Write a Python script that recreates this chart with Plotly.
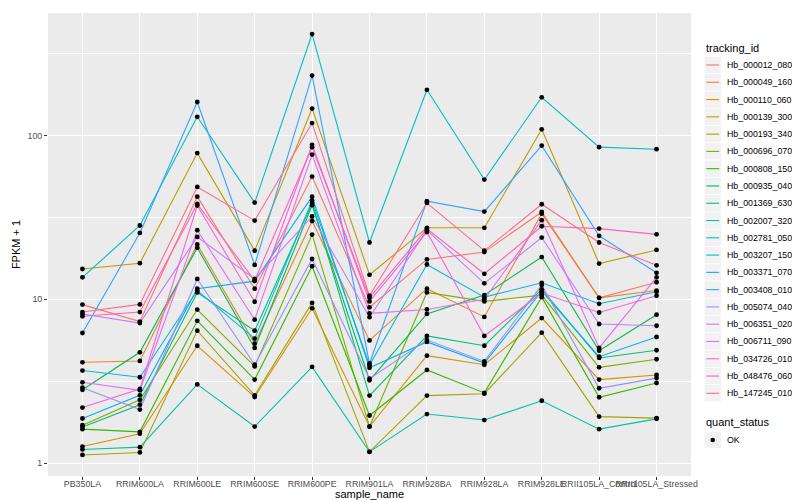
import math
import plotly.graph_objects as go

# ---------------- data ----------------
samples = ["PB350LA", "RRIM600LA", "RRIM600LE", "RRIM600SE", "RRIM600PE",
           "RRIM901LA", "RRIM928BA", "RRIM928LA", "RRIM928LE",
           "RRII105LA_Control", "RRII105LA_Stressed"]

tracking_ids = ["Hb_000012_080", "Hb_000049_160", "Hb_000110_060", "Hb_000139_300",
                "Hb_000193_340", "Hb_000696_070", "Hb_000808_150", "Hb_000935_040",
                "Hb_001369_630", "Hb_002007_320", "Hb_002781_050", "Hb_003207_150",
                "Hb_003371_070", "Hb_003408_010", "Hb_005074_040", "Hb_006351_020",
                "Hb_006711_090", "Hb_034726_010", "Hb_048476_060", "Hb_147245_010"]

hb_000012_080 = [9.27, 7.3, 42.3, 11.6, 56.1, 8.93, 17.5, 19.4, 34.1, 10.2, 12.7]
hb_000049_160 = [4.12, 4.2, 21.6, 5.36, 30.0, 5.6, 11.6, 7.8, 33.3, 10.2, 11.3]
hb_000110_060 = [1.26, 1.51, 5.2, 2.53, 8.8, 1.67, 4.52, 3.98, 7.67, 3.23, 3.45]
hb_000139_300 = [15.3, 16.6, 78.0, 19.8, 146.0, 14.1, 27.3, 27.3, 109.0, 16.5, 20.0]
hb_000193_340 = [1.12, 1.16, 6.43, 2.59, 9.5, 1.17, 2.58, 2.65, 6.25, 1.92, 1.88]
hb_000696_070 = [1.70, 2.43, 8.65, 3.89, 24.8, 1.67, 11.0, 9.7, 10.6, 3.84, 4.30]
hb_000808_150 = [1.61, 1.55, 7.38, 3.23, 15.9, 1.95, 3.70, 2.68, 10.3, 2.52, 3.08]
hb_000935_040 = [2.80, 4.74, 20.6, 5.04, 37.5, 3.2, 8.13, 10.6, 18.1, 4.85, 8.05]
hb_001369_630 = [1.66, 2.27, 11.0, 6.43, 38.7, 2.58, 5.97, 5.2, 11.5, 4.38, 4.88]
hb_002007_320 = [1.21, 1.25, 3.02, 1.67, 3.86, 1.17, 1.99, 1.83, 2.4, 1.61, 1.86]
hb_002781_050 = [13.6, 28.2, 130.0, 38.9, 416.0, 22.2, 190.0, 53.8, 171.0, 84.8, 82.4]
hb_003207_150 = [3.67, 3.34, 11.3, 5.75, 40.0, 3.95, 16.3, 10.3, 12.6, 9.38, 11.1]
hb_003371_070 = [1.87, 2.59, 11.6, 12.9, 42.3, 3.81, 5.49, 4.08, 11.2, 4.46, 5.88]
hb_003408_010 = [6.22, 25.4, 160.0, 16.2, 232.0, 4.05, 39.7, 34.3, 86.7, 24.4, 14.5]
hb_005074_040 = [2.88, 2.12, 13.3, 3.98, 17.6, 3.27, 5.63, 4.17, 12.2, 2.86, 3.3]
hb_006351_020 = [8.13, 7.15, 24.0, 13.3, 32.0, 7.77, 26.4, 12.5, 23.8, 7.06, 6.89]
hb_006711_090 = [3.11, 2.78, 26.4, 7.5, 76.4, 8.2, 8.66, 10.0, 30.4, 5.04, 13.6]
hb_034726_010 = [2.18, 2.83, 37.3, 9.65, 87.7, 9.7, 25.7, 5.97, 10.9, 8.3, 10.5]
hb_048476_060 = [7.87, 8.35, 38.2, 13.0, 84.8, 10.2, 26.9, 14.3, 27.9, 27.0, 24.9]
hb_147245_010 = [8.35, 9.3, 48.5, 30.2, 119.0, 10.5, 38.7, 19.8, 38.0, 22.2, 16.1]

series_values = [hb_000012_080, hb_000049_160, hb_000110_060, hb_000139_300,
                 hb_000193_340, hb_000696_070, hb_000808_150, hb_000935_040,
                 hb_001369_630, hb_002007_320, hb_002781_050, hb_003207_150,
                 hb_003371_070, hb_003408_010, hb_005074_040, hb_006351_020,
                 hb_006711_090, hb_034726_010, hb_048476_060, hb_147245_010]

quant_status = ["OK"]
y_ticks = [1, 10, 100]
y_minor = [10 ** 0.5, 10 ** 1.5, 10 ** 2.5]

# ---------------- styles ----------------
colors = ["#F8766D", "#EA8331", "#D89000", "#C09B00", "#A3A500", "#7CAE00",
          "#39B600", "#00BB4E", "#00BF7D", "#00C1A3", "#00BFC4", "#00BAE0",
          "#00B0F6", "#35A2FF", "#9590FF", "#C77CFF", "#E76BF3", "#FA62DB",
          "#FF62BC", "#FF6C91"]
FONT = "Liberation Sans, Arial, Helvetica, sans-serif"
W, H = 800, 500
L, R, T, B = 40, 683, 5, 468  # panel in pixels

fig = go.Figure()
for name, vals, col in zip(tracking_ids, series_values, colors):
    fig.add_trace(go.Scatter(x=samples, y=vals, mode="lines", name=name,
                             line=dict(color=col, width=1.1), showlegend=False,
                             hoverinfo="skip"))

px_all, py_all = [], []
for vals in series_values:
    px_all += samples
    py_all += vals
fig.add_trace(go.Scatter(x=px_all, y=py_all, mode="markers", name=quant_status[0],
                         marker=dict(color="black", size=4.8, symbol="circle"),
                         showlegend=False))

# y range with ggplot-like 5% expansion in log space
lo = math.log10(min(py_all))
hi = math.log10(max(py_all))
pad = 0.05 * (hi - lo)

fig.update_layout(
    width=W, height=H,
    margin=dict(l=L, r=W - R, t=T, b=H - B),
    paper_bgcolor="white", plot_bgcolor="#EBEBEB",
    font=dict(family=FONT, color="black"),
    showlegend=False,
)
fig.update_xaxes(
    type="category", categoryorder="array", categoryarray=samples,
    range=[-0.6, len(samples) - 0.4],
    showgrid=True, gridcolor="white", gridwidth=1.1, zeroline=False, showline=False,
    ticks="outside", ticklen=3, tickwidth=1, tickcolor="#333333",
    tickfont=dict(size=8.8, color="#4D4D4D", family=FONT), tickangle=0,
    ticklabelstandoff=-4,
    automargin=False,
)
fig.update_yaxes(
    type="log", range=[lo - pad, hi + pad],
    tickvals=y_ticks, ticktext=[str(v) for v in y_ticks],
    showgrid=True, gridcolor="white", gridwidth=1.1, zeroline=False, showline=False,
    ticks="outside", ticklen=3, tickwidth=1, tickcolor="#333333",
    tickfont=dict(size=8.8, color="#4D4D4D", family=FONT),
    minor=dict(tickvals=y_minor, showgrid=True, gridcolor="white", gridwidth=0.55, ticks=""),
    title=dict(text="FPKM + 1", font=dict(size=11, color="black", family=FONT), standoff=4),
    automargin=False,
)

# ---------------- legends (ggplot-style keys) ----------------
def xp(px):
    return (px - L) / (R - L)

def yp(py):
    return (B - py) / (B - T)

shapes, annots = [], []

# x axis title
annots.append(dict(x=0.5, y=yp(485.5), xref="paper", yref="paper", text="sample_name",
                   showarrow=False, xanchor="center", yanchor="middle",
                   font=dict(size=11, color="black", family=FONT)))

key_x0, key_x1 = 696.5, 713.0
text_x = 717.0
step = 17.28
first = 57.0

annots.append(dict(x=xp(696), y=yp(40), xref="paper", yref="paper", text="tracking_id",
                   showarrow=False, xanchor="left", yanchor="middle",
                   font=dict(size=11, color="black", family=FONT)))
for i, (name, col) in enumerate(zip(tracking_ids, colors)):
    yc = first + i * step
    shapes.append(dict(type="rect", xref="paper", yref="paper",
                       x0=xp(key_x0), x1=xp(key_x1), y0=yp(yc - 8.2), y1=yp(yc + 8.2),
                       fillcolor="#F2F2F2", line=dict(width=0), layer="above"))
    shapes.append(dict(type="line", xref="paper", yref="paper",
                       x0=xp(key_x0 + 1.8), x1=xp(key_x1 - 1.8), y0=yp(yc), y1=yp(yc),
                       line=dict(color=col, width=1.1), layer="above"))
    annots.append(dict(x=xp(text_x), y=yp(yc), xref="paper", yref="paper", text=name,
                       showarrow=False, xanchor="left", yanchor="middle",
                       font=dict(size=8.8, color="black", family=FONT)))

q_title_y = 414
q_key_y = 432
annots.append(dict(x=xp(696), y=yp(q_title_y), xref="paper", yref="paper", text="quant_status",
                   showarrow=False, xanchor="left", yanchor="middle",
                   font=dict(size=11, color="black", family=FONT)))
shapes.append(dict(type="rect", xref="paper", yref="paper",
                   x0=xp(key_x0), x1=xp(key_x1), y0=yp(q_key_y - 8.2), y1=yp(q_key_y + 8.2),
                   fillcolor="#F2F2F2", line=dict(width=0), layer="above"))
cx = (key_x0 + key_x1) / 2
shapes.append(dict(type="circle", xref="paper", yref="paper",
                   x0=xp(cx - 2.3), x1=xp(cx + 2.3), y0=yp(q_key_y - 2.3), y1=yp(q_key_y + 2.3),
                   fillcolor="black", line=dict(width=0), layer="above"))
annots.append(dict(x=xp(text_x), y=yp(q_key_y), xref="paper", yref="paper", text=quant_status[0],
                   showarrow=False, xanchor="left", yanchor="middle",
                   font=dict(size=8.8, color="black", family=FONT)))

fig.update_layout(shapes=shapes, annotations=annots)
fig.write_html("out.html")
